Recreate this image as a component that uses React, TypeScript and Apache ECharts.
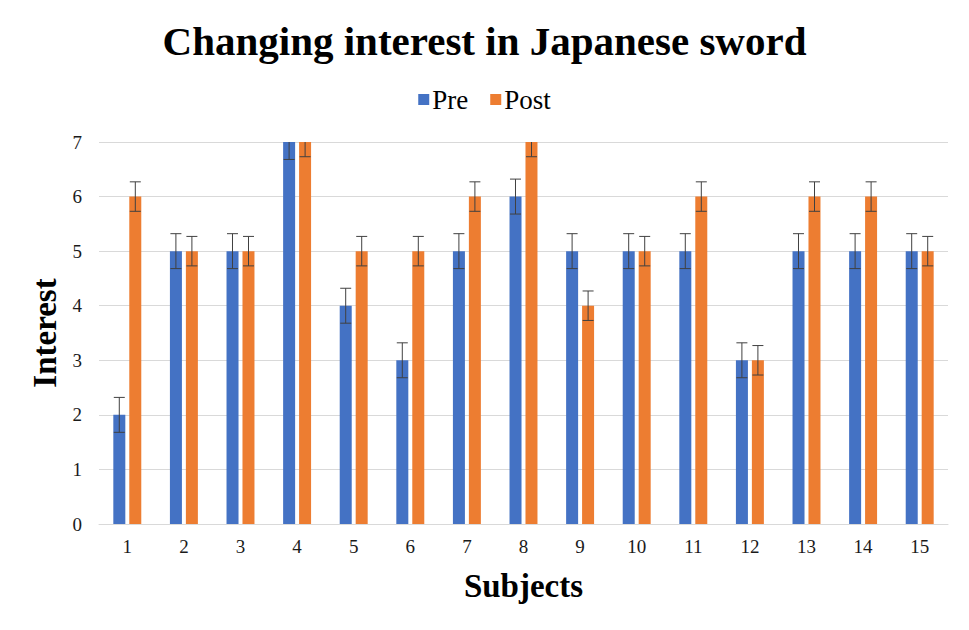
import React, { useEffect, useRef } from "react";
import * as echarts from "echarts";

const categories = ["1", "2", "3", "4", "5", "6", "7", "8", "9", "10", "11", "12", "13", "14", "15"];
const preValues = [2, 5, 5, 7, 4, 3, 5, 6, 5, 5, 5, 3, 5, 5, 5];
const postValues = [6, 5, 5, 7, 5, 5, 6, 7, 4, 5, 6, 3, 6, 6, 5];
const preError = 0.32;
const postError = 0.27;
const yTicks = [0, 1, 2, 3, 4, 5, 6, 7];

const SERIF = "'Liberation Serif', 'Times New Roman', serif";

function errorSeries(values: number[], err: number, offsetFrac: number) {
  return {
    type: "custom",
    silent: true,
    z: 10,
    data: values.map((v, i) => [i, v]),
    renderItem: (params: any, api: any) => {
      const i = api.value(0);
      const v = api.value(1);
      const band = api.size([1, 0])[0];
      const center = api.coord([i, v]);
      const x = center[0] + band * offsetFrac;
      const hi = Math.min(v + err, yTicks[yTicks.length - 1]);
      const lo = v - err;
      const yHi = api.coord([i, hi])[1];
      const yLo = api.coord([i, lo])[1];
      const cap = 5.5;
      const style = { stroke: "#404040", lineWidth: 1 };
      const children: any[] = [
        { type: "line", shape: { x1: x, y1: yHi, x2: x, y2: yLo }, style },
        { type: "line", shape: { x1: x - cap, y1: yLo, x2: x + cap, y2: yLo }, style },
      ];
      if (v + err <= yTicks[yTicks.length - 1]) {
        children.push({ type: "line", shape: { x1: x - cap, y1: yHi, x2: x + cap, y2: yHi }, style });
      }
      return { type: "group", children };
    },
  };
}

export default function App() {
  const ref = useRef<HTMLDivElement>(null);
  useEffect(() => {
    if (!ref.current) return;
    const chart = echarts.init(ref.current, null, { renderer: "svg" });
    chart.setOption({
      animation: false,
      backgroundColor: "#ffffff",
      title: {
        text: "Changing interest in Japanese sword",
        left: "center",
        top: 15,
        textStyle: { fontFamily: SERIF, fontSize: 41, fontWeight: "bold", color: "#000000" },
      },
      legend: {
        top: 81,
        left: "center",
        itemWidth: 11,
        itemHeight: 11,
        itemGap: 22,
        icon: "rect",
        data: ["Pre", "Post"],
        textStyle: { fontFamily: SERIF, fontSize: 27, color: "#000000", padding: [0, 0, 0, -2] },
      },
      grid: { left: 99, right: 21, top: 142, bottom: 106 },
      xAxis: {
        type: "category",
        data: categories,
        name: "Subjects",
        nameLocation: "middle",
        nameGap: 45,
        nameTextStyle: { fontFamily: SERIF, fontSize: 33, fontWeight: "bold", color: "#000000" },
        axisLine: { lineStyle: { color: "#d9d9d9", width: 1 } },
        axisTick: { show: false },
        axisLabel: { fontFamily: SERIF, fontSize: 19, color: "#1a1a1a", margin: 13 },
      },
      yAxis: {
        type: "value",
        min: 0,
        max: 7,
        interval: 1,
        name: "Interest",
        nameLocation: "middle",
        nameGap: 38,
        nameTextStyle: { fontFamily: SERIF, fontSize: 33, fontWeight: "bold", color: "#000000" },
        axisLine: { show: false },
        axisTick: { show: false },
        axisLabel: { fontFamily: SERIF, fontSize: 19, color: "#1a1a1a", margin: 17 },
        splitLine: { lineStyle: { color: "#d9d9d9", width: 1 } },
      },
      series: [
        {
          name: "Pre",
          type: "bar",
          data: preValues,
          barWidth: 12,
          barGap: "33%",
          itemStyle: { color: "#4472c4" },
        },
        {
          name: "Post",
          type: "bar",
          data: postValues,
          barWidth: 12,
          barGap: "33%",
          itemStyle: { color: "#ed7d31" },
        },
        errorSeries(preValues, preError, -8 / 56.57),
        errorSeries(postValues, postError, 8 / 56.57),
      ],
    });
    return () => chart.dispose();
  }, []);
  return <div ref={ref} style={{ width: 969, height: 630, margin: -8 }} />;
}
